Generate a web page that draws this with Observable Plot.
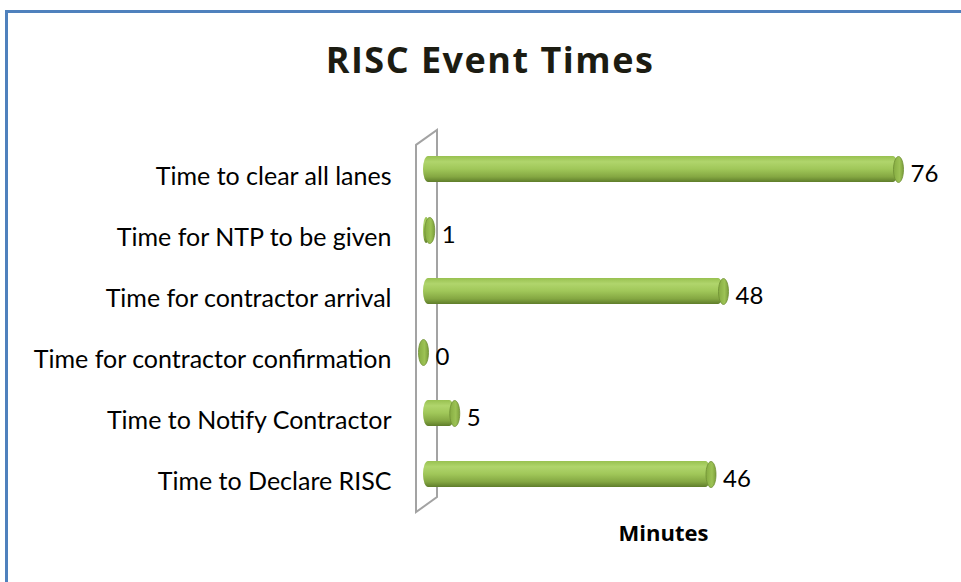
<!DOCTYPE html>
<html>
<head>
<meta charset="utf-8">
<script src="https://cdn.jsdelivr.net/npm/d3@7"></script>
<script src="https://cdn.jsdelivr.net/npm/@observablehq/plot@0.6"></script>
<style>
  html, body { margin: 0; padding: 0; background: #fff; }
  #wrap { position: relative; width: 961px; height: 582px; overflow: hidden; background: #fff; }
  #frame { position: absolute; left: 5px; top: 10px; width: 1200px; height: 800px;
           border-left: 3px solid #4f81bd; border-top: 3px solid #4f81bd; }
  #title { position: absolute; left: 0; width: 980px; top: 42px; text-align: center; line-height: 36px;
           font-family: "Open Sans", sans-serif; font-weight: 700; font-size: 36px; letter-spacing: 1.5px; color: #1c1c12; }
  #chart { position: absolute; left: 0; top: 120px; }
</style>
</head>
<body>
<div id="wrap">
  <div id="frame"></div>
  <div id="title">RISC Event Times</div>
  <div id="chart"></div>
</div>
<script>
const categories = [
  "Time to clear all lanes",
  "Time for NTP to be given",
  "Time for contractor arrival",
  "Time for contractor confirmation",
  "Time to Notify Contractor",
  "Time to Declare RISC"
];
const values = [76, 1, 48, 0, 5, 46];
const axisLabel = "Minutes";
const xMax = 76.8;

const data = categories.map((c, i) => ({label: c, value: values[i]}));

const capRx = 5, capRy = 13;
const ellipseSymbol = {
  draw(ctx) {
    const k = 0.5523, rx = capRx, ry = capRy;
    ctx.moveTo(rx, 0);
    ctx.bezierCurveTo(rx, ry * k, rx * k, ry, 0, ry);
    ctx.bezierCurveTo(-rx * k, ry, -rx, ry * k, -rx, 0);
    ctx.bezierCurveTo(-rx, -ry * k, -rx * k, -ry, 0, -ry);
    ctx.bezierCurveTo(rx * k, -ry, rx, -ry * k, rx, 0);
    ctx.closePath();
  }
};

// back wall of the 3D plot area, placed from the scales
function wall(index, scales, values, dims) {
  const x0 = scales.x(0);
  const top = dims.marginTop, bottom = dims.height - dims.marginBottom;
  const pts = [
    [x0 - 7, top + 7.5], [x0 + 14, top - 7.5], [x0 + 14, bottom - 7.5], [x0 - 7, bottom + 7.5]
  ];
  const g = document.createElementNS("http://www.w3.org/2000/svg", "g");
  const p = document.createElementNS("http://www.w3.org/2000/svg", "path");
  p.setAttribute("d", "M" + pts.map(d => d.join(",")).join("L") + "Z");
  p.setAttribute("fill", "#ffffff");
  p.setAttribute("stroke", "#a3a3a3");
  p.setAttribute("stroke-width", "2");
  g.appendChild(p);
  return g;
}

const svg = Plot.plot({
  width: 961,
  height: 462,
  marginLeft: 423,
  marginRight: 58,
  marginTop: 17.4,
  marginBottom: 77.4,
  style: {fontFamily: "Lato, sans-serif", fontSize: "25px", color: "#000", background: "transparent"},
  x: {domain: [0, xMax], axis: null},
  y: {domain: categories, paddingInner: 0.575, paddingOuter: 0.2875, label: null},
  marks: [
    wall,
    Plot.axisY({tickSize: 0, tickPadding: 32, fontSize: 25, dy: 7}),
    Plot.barX(data, {x: "value", y: "label", fill: "url(#cyl)", rx: capRx, ry: capRy}),
    Plot.dot(data, {x: "value", y: "label", symbol: ellipseSymbol, fill: "url(#cap)", stroke: "#6f8f34", strokeWidth: 0.8}),
    Plot.text(data, {x: "value", y: "label", text: d => String(d.value), textAnchor: "start", dx: 12, dy: 5, fontSize: 24, fill: "#000"}),
    Plot.text([axisLabel], {frameAnchor: "bottom", dy: 36, fontFamily: "Open Sans, sans-serif", fontWeight: "bold", fontSize: 22, fill: "#000"})
  ]
});

d3.select(svg).insert("defs", ":first-child").html(`
  <linearGradient id="cyl" x1="0" y1="0" x2="0" y2="1">
    <stop offset="0%" stop-color="#98c150"/>
    <stop offset="22%" stop-color="#b0d56c"/>
    <stop offset="50%" stop-color="#a0c759"/>
    <stop offset="80%" stop-color="#84a742"/>
    <stop offset="100%" stop-color="#5f7d2b"/>
  </linearGradient>
  <linearGradient id="cap" x1="0" y1="0" x2="1" y2="0">
    <stop offset="0%" stop-color="#86ac42"/>
    <stop offset="60%" stop-color="#9cc254"/>
    <stop offset="100%" stop-color="#7c9e3c"/>
  </linearGradient>
`);

document.getElementById("chart").appendChild(svg);
</script>
</body>
</html>
